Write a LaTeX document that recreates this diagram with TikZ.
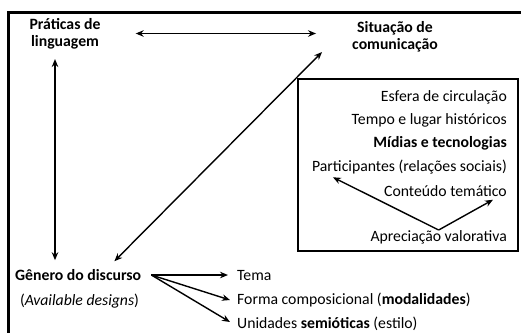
\documentclass[tikz,border=0pt]{standalone}
\usepackage{fontspec}
\setmainfont{Carlito}
\usetikzlibrary{arrows.meta,calc}
\tikzset{
  lbl/.style={inner sep=0pt, font=\fontsize{15.8}{17}\selectfont},
  blbl/.style={lbl, font=\fontsize{15.8}{17}\selectfont\bfseries, align=center},
  dbl/.style={{Stealth[length=8bp,width=6.5bp]}-{Stealth[length=8bp,width=6.5bp]}, line width=1.4bp},
  sgl/.style={-{Stealth[length=8bp,width=6.5bp]}, line width=1.4bp},
  frame/.style={line width=2.4bp},
  boxst/.style={draw, line width=1.4bp, inner sep=0pt}
}
\begin{document}
\begin{tikzpicture}[x=1bp,y=-1bp]
\useasboundingbox (0,0) rectangle (521,332);
\draw[frame] (8.5,335) |- (525,12.5);

\node[blbl] (prat) at (65,33.5) {Práticas de\\linguagem};
\node[blbl] (sit) at (395,36.5) {Situação de\\comunicação};

\node[boxst, minimum width=220bp, minimum height=172bp] (box) at (408,165) {};
\node[lbl, anchor=east] (esf) at (507,97) {Esfera de circulação};
\node[lbl, anchor=east] (tempo) at (507,120) {Tempo e lugar históricos};
\node[lbl, anchor=east, font=\fontsize{15.8}{17}\selectfont\bfseries] (mid) at (507,143.5) {Mídias e tecnologias};
\node[lbl, anchor=east] (part) at (507,167) {Participantes (relações sociais)};
\node[lbl, anchor=east] (cont) at (507,191) {Conteúdo temático};
\node[lbl, anchor=east] (apr) at (507,237) {Apreciação valorativa};

\node[lbl, anchor=west, font=\fontsize{15.8}{17}\selectfont\bfseries] (gen) at (15,275) {Gênero do discurso};
\node[lbl] (avail) at (79.5,301) {(\textit{Available designs})};
\node[lbl, anchor=west] (tema) at (237,275) {Tema};
\node[lbl, anchor=west] (forma) at (237,300) {Forma composicional (\textbf{modalidades})};
\node[lbl, anchor=west] (unid) at (237,324) {Unidades \textbf{semióticas} (estilo)};

% connectors
\draw[dbl] ($(prat.east)+(35,0)$) -- ($(sit.west |- prat.east)+(-36,0)$);
\draw[dbl, shorten <=10bp, shorten >=9bp] (prat.south -| 55,0) -- (gen.north -| 55,0);
\draw[dbl] ($(sit.south west)+(-30,0)$) -- ($(gen.north east)+(-27,-8)$);

\draw[sgl] (apr.north) -- ($(part.south west)+(21,3)$);
\draw[sgl] (apr.north) -- ($(cont.south east)+(-14,3)$);

\coordinate (g0) at ($(gen.east)+(10,0)$);
\draw[sgl] (g0) -- ($(tema.west)+(-9,0)$);
\draw[sgl] (g0) -- ($(forma.west)+(-7,0)$);
\draw[sgl] (g0) -- ($(unid.west)+(-7,-2)$);
\end{tikzpicture}
\end{document}
